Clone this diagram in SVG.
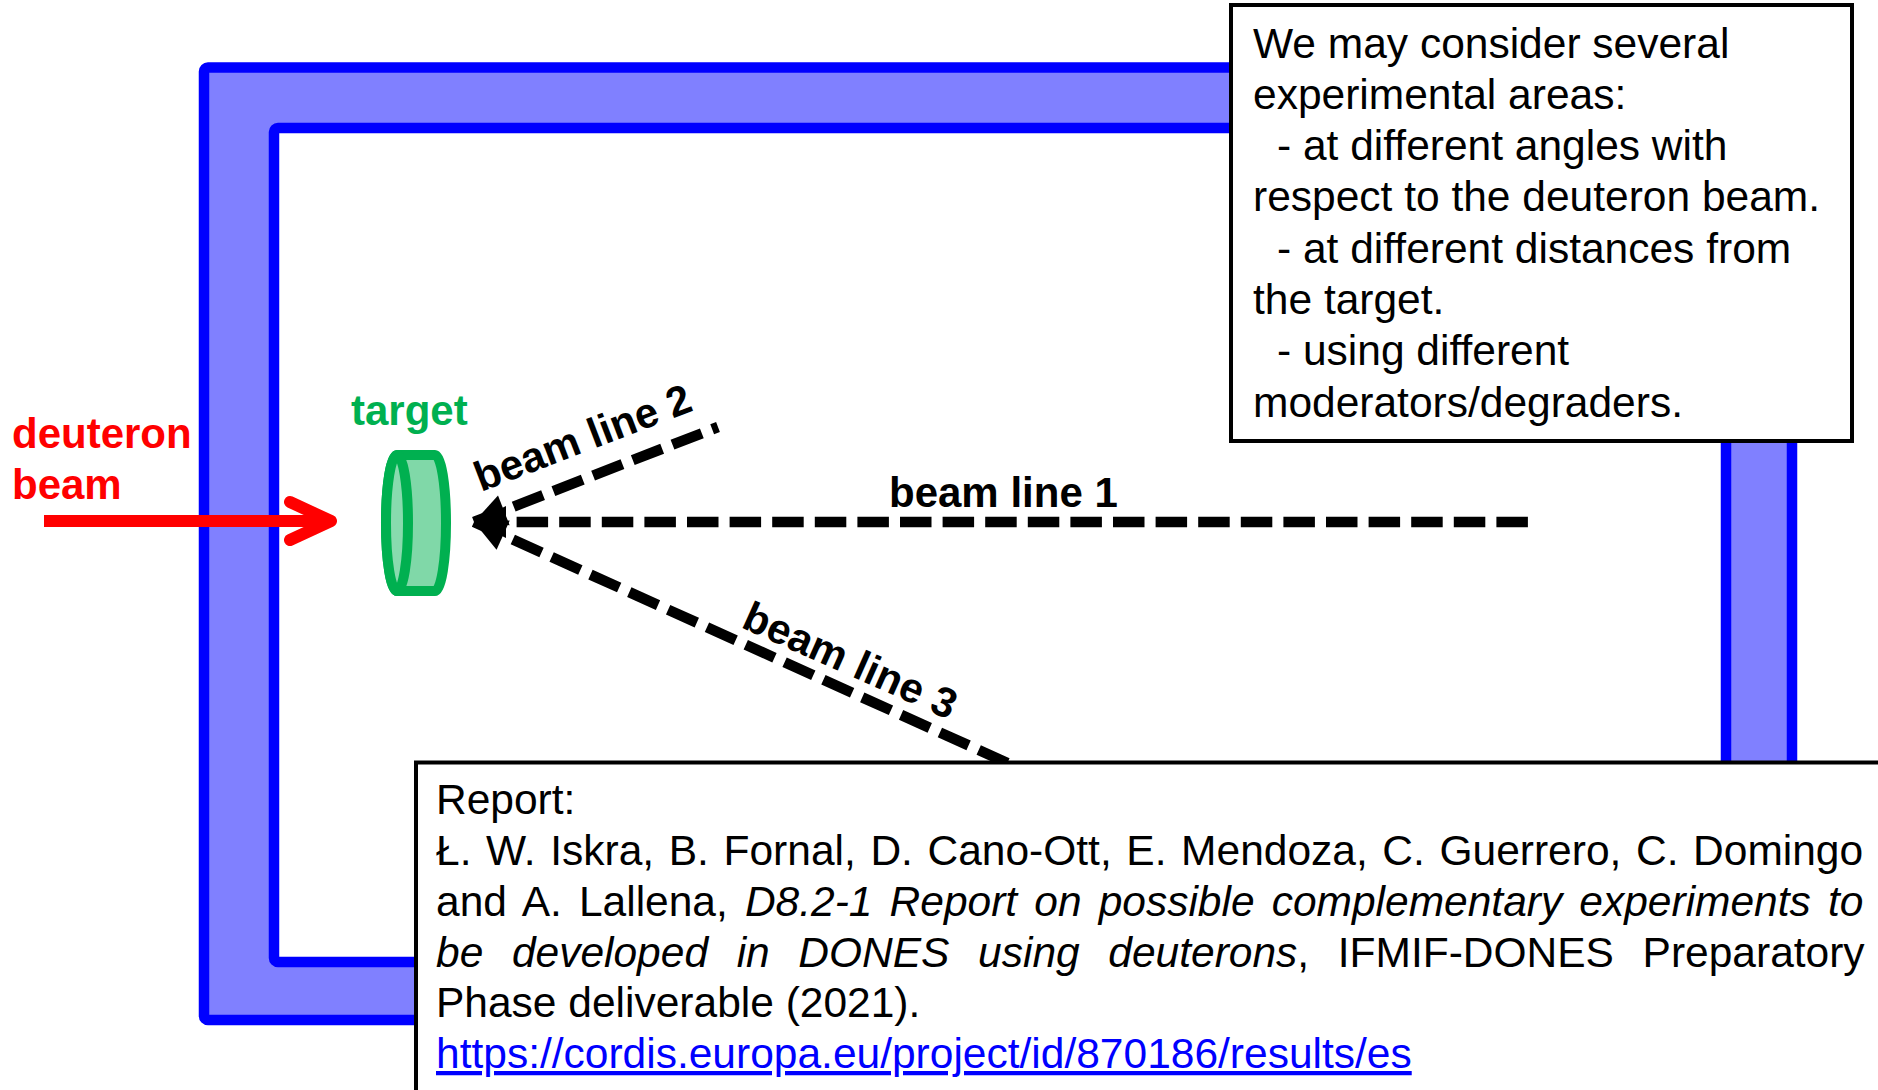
<svg xmlns="http://www.w3.org/2000/svg" width="1878" height="1090" viewBox="0 0 1878 1090">
<style>
.t{font-family:"Liberation Sans",Arial,sans-serif;font-size:42.5px;fill:#000}
.b{font-family:"Liberation Sans",Arial,sans-serif;font-size:42px;font-weight:bold}
.i{font-style:italic}
.beam{fill:none;stroke:#000;stroke-width:10.5;stroke-dasharray:31.5 11.1;marker-start:url(#tri)}
.box{fill:#fff;stroke:#000;stroke-width:4}
</style>
<defs>
<marker id="tri" markerUnits="userSpaceOnUse" markerWidth="40" markerHeight="40" viewBox="-2 -20 40 40" refX="0" refY="0" orient="auto">
<path d="M0,0 L32,-16 L32,16 Z" fill="#000"/>
</marker>
</defs>
<rect width="1878" height="1090" fill="#fff"/>
<g id="hall">
<path d="M204,67.5 H1792 V1020 H204 Z M274,128 V962 H1726 V128 Z" fill="#8080FF" fill-rule="evenodd"/>
<rect x="204" y="67.5" width="1588" height="952.5" rx="4" fill="none" stroke="#0000FF" stroke-width="10.5"/>
<rect x="274" y="128" width="1452" height="834" rx="4" fill="none" stroke="#0000FF" stroke-width="10.5"/>
</g>
<g id="connectors">
<path class="beam" d="M474,522 L1533,522"/>
<path class="beam" d="M474,522 L718,427"/>
<path class="beam" d="M474,522 L1012,765"/>
</g>
<g id="deuteron-beam">
<text class="b" x="12" y="448" fill="#FF0000">deuteron</text>
<text class="b" x="12" y="499" fill="#FF0000">beam</text>
<path d="M44,521 H330" stroke="#FF0000" stroke-width="12" fill="none"/>
<polyline points="290,502 331,521 290,540" fill="none" stroke="#FF0000" stroke-width="12" stroke-linecap="round" stroke-linejoin="round"/>
</g>
<g id="target">
<text class="b" x="351" y="425" fill="#00B050">target</text>
<path d="M397,455 L435,455 A11,68 0 0 1 435,591 L397,591 A11,68 0 0 1 397,455 Z" fill="#80D8A8" stroke="#00B050" stroke-width="10"/>
<ellipse cx="397" cy="523" rx="11" ry="68" fill="#88DBAE" stroke="#00B050" stroke-width="10"/>
</g>
<g id="labels">
<text class="b" x="889" y="507" fill="#000">beam line 1</text>
<text class="b" x="0" y="0" fill="#000" transform="translate(481,492) rotate(-21)">beam line 2</text>
<text class="b" x="0" y="0" fill="#000" transform="translate(740,627) rotate(24)">beam line 3</text>
</g>
<g id="note">
<rect class="box" x="1231" y="5" width="621" height="436"/>
<text class="t">
<tspan x="1253" y="57.5">We may consider several</tspan>
<tspan x="1253" y="108.8">experimental areas:</tspan>
<tspan x="1277" y="160.1">- at different angles with</tspan>
<tspan x="1253" y="211.4">respect to the deuteron beam.</tspan>
<tspan x="1277" y="262.7">- at different distances from</tspan>
<tspan x="1253" y="314">the target.</tspan>
<tspan x="1277" y="365.3">- using different</tspan>
<tspan x="1253" y="416.6">moderators/degraders.</tspan>
</text>
</g>
<g id="report">
<rect class="box" x="416" y="762.5" width="1480" height="360"/>
<text class="t" x="436" y="814">Report:</text>
<text class="t" x="436" y="865" word-spacing="2.8">Ł. W. Iskra, B. Fornal, D. Cano-Ott, E. Mendoza, C. Guerrero, C. Domingo</text>
<text class="t" x="436" y="916" word-spacing="5.3">and A. Lallena, <tspan class="i">D8.2-1 Report on possible complementary experiments to</tspan></text>
<text class="t" x="436" y="967" word-spacing="16.8"><tspan class="i">be developed in DONES using deuterons</tspan>, IFMIF-DONES Preparatory</text>
<text class="t" x="436" y="1017">Phase deliverable (2021).</text>
<text class="t" x="436" y="1068" style="fill:#0000FF" text-decoration="underline">https://cordis.europa.eu/project/id/870186/results/es</text>
</g>
</svg>
